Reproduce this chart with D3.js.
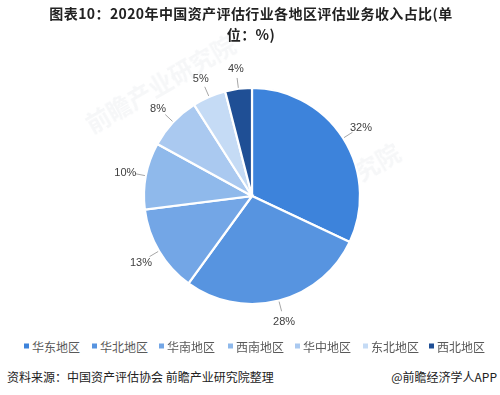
<!DOCTYPE html>
<html>
<head>
<meta charset="utf-8">
<script src="https://cdn.jsdelivr.net/npm/d3@7"></script>
<style>
  html, body { margin: 0; padding: 0; background: #fff; }
  svg { display: block; }
</style>
</head>
<body>
<svg id="chart" width="500" height="395"></svg>
<script>
// 2020年各地区评估业务收入占比（%）
const regions = ["华东地区", "华北地区", "华南地区", "西南地区", "华中地区", "东北地区", "西北地区"];
const shares = [32, 28, 13, 10, 8, 5, 4];
const colors = ["#3d83db", "#5794e0", "#73a6e6", "#8fb9eb", "#aac9f0", "#c5dbf5", "#1f4f95"];

const titleLines = ["图表10：2020年中国资产评估行业各地区评估业务收入占比(单", "位：%)"];
const sourceText = "资料来源：中国资产评估协会 前瞻产业研究院整理";
const brandText = "@前瞻经济学人APP";

const svg = d3.select("#chart");
const W = 500, H = 395;
const cx = 252, cy = 196, R = 108;
const cjk = "'Noto Sans CJK SC', 'Microsoft YaHei', sans-serif";

// faint watermark
const wm = svg.append("g").attr("fill", "#e4e7eb").attr("opacity", 0.35)
  .style("font-family", cjk).style("font-weight", "bold");
[[165, 92], [330, 200]].forEach(([x, y]) => {
  wm.append("text").attr("transform", `translate(${x},${y}) rotate(-30)`)
    .attr("text-anchor", "middle").style("font-size", "24px").text("前瞻产业研究院");
});

// title, wrapped over two lines
titleLines.forEach((t, i) => {
  svg.append("text").attr("text-anchor", "middle")
    .attr("x", W / 2 + 1).attr("y", 19 + i * 20.5)
    .style("font-family", cjk).style("font-weight", "bold").style("font-size", "14px")
    .style("letter-spacing", "0.4px")
    .attr("fill", "#222").text(t);
});

// pie
const pie = d3.pie().sort(null).value(d => d).startAngle(0).endAngle(2 * Math.PI);
const arcs = pie(shares);
const arc = d3.arc().innerRadius(0).outerRadius(R);

const g = svg.append("g").attr("transform", `translate(${cx},${cy})`);
g.selectAll("path.slice").data(arcs).join("path")
  .attr("class", "slice")
  .attr("d", arc)
  .attr("fill", (d, i) => colors[i])
  .attr("stroke", "#fff")
  .attr("stroke-width", 2.2);

// labels with leader lines
const polar = (a, r) => [r * Math.sin(a), -r * Math.cos(a)];
arcs.forEach((d, i) => {
  const a = (d.startAngle + d.endAngle) / 2;
  const p0 = polar(a, R + 1);
  const p1 = polar(a, R + 11);
  g.append("path")
    .attr("d", d3.line()([p0, p1]))
    .attr("stroke", "#a6a6a6").attr("stroke-width", 1).attr("fill", "none");
  const lp = polar(a, R + 21);
  g.append("text")
    .attr("x", lp[0]).attr("y", lp[1])
    .attr("text-anchor", "middle").attr("dominant-baseline", "central")
    .style("font-family", "'Liberation Sans', Arial, sans-serif").style("font-size", "11px")
    .attr("fill", "#404040")
    .text(shares[i] + "%");
});

// legend
const legendX = [24, 92, 159, 228, 295, 363, 429];
const lg = svg.append("g");
regions.forEach((name, i) => {
  const item = lg.append("g").attr("transform", `translate(${legendX[i]},346)`);
  item.append("rect").attr("x", 0).attr("y", -2.5).attr("width", 5).attr("height", 5).attr("fill", colors[i]);
  item.append("text").attr("x", 8).attr("y", 0).attr("dominant-baseline", "central")
    .style("font-family", cjk).style("font-size", "12px").attr("fill", "#595959").text(name);
});

// footer
svg.append("text").attr("x", 7).attr("y", 382)
  .style("font-family", cjk).style("font-size", "12px").attr("fill", "#222").text(sourceText);
svg.append("text").attr("x", 497).attr("y", 382).attr("text-anchor", "end")
  .style("font-family", cjk).style("font-size", "12px").attr("fill", "#222").text(brandText);
</script>
</body>
</html>
